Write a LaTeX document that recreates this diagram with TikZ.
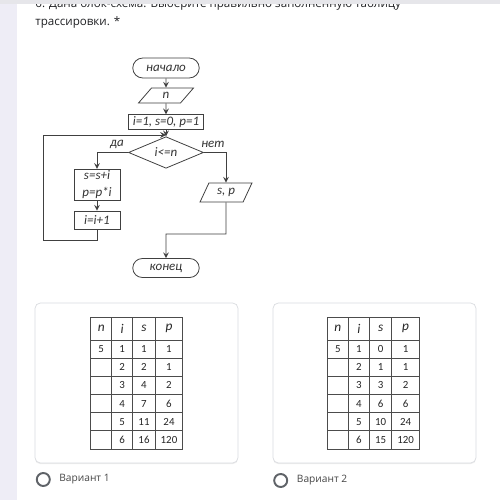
\documentclass[tikz,border=0pt]{standalone}
\usepackage{fontspec}
\setmainfont{Carlito}
\newfontfamily\uifont{Open Sans}
\usetikzlibrary{shapes.geometric,shapes.misc,shadows}

\definecolor{pagebg}{HTML}{EEEDF6}
\definecolor{topbar}{HTML}{E6E6EA}
\definecolor{cardline}{HTML}{DADCE0}
\definecolor{uitext}{HTML}{202124}
\definecolor{radiogray}{HTML}{5F6368}

\tikzstyle{term} = [rounded rectangle, draw, minimum width=1.4cm, minimum height=0.4cm, inner sep=1pt]
\tikzstyle{io} = [trapezium, trapezium left angle=65, trapezium right angle=115, trapezium stretches=true, draw, inner sep=1pt]
\tikzstyle{block} = [rectangle, draw, text centered, inner sep=1pt]
\tikzstyle{decision} = [diamond, draw, minimum width=1.5cm, minimum height=0.5cm, inner sep=0pt]

\begin{document}
\begin{tikzpicture}[x=0.02cm, y=-0.02cm, >=stealth, line width=0.45pt, draw=black!75,
  font=\fontsize{7.4}{9.6}\selectfont\itshape, text=black!80]
	\tikzstyle{card}=[rectangle, fill=white, draw=cardline, line width=0.4pt, rounded corners=3pt, minimum width=4.06cm, minimum height=3.2cm, drop shadow={opacity=0.12, shadow xshift=0pt, shadow yshift=-0.7pt}]
	\tikzstyle{cell}=[rectangle, draw=black!70, line width=0.5pt, minimum height=0.3634cm, inner sep=0pt, font=\fontsize{6.2}{7}\selectfont\upshape, text=black!85]
	\tikzstyle{head}=[cell, minimum height=0.454cm, font=\fontsize{7.6}{8}\selectfont\itshape]
	\tikzstyle{radio}=[circle, draw=radiogray, line width=1.1pt, minimum size=0.26cm, inner sep=0pt]
	\tikzstyle{option}=[anchor=west, inner sep=0pt, font=\uifont\fontsize{5.8}{7}\selectfont\upshape, text=black!72]
	\tikzstyle{branch}=[inner sep=0pt]
  \useasboundingbox (0,0) rectangle (500,500);
  \fill[white] (0,0) rectangle (500,500);
  \fill[pagebg] (0,0) rectangle (17,500);
  \node[anchor=base west, inner sep=0pt, font=\uifont\fontsize{6.6}{8}\selectfont\upshape, text=uitext] (qline1) at (35,7.5) {6. Дана блок-схема. Выберите правильно заполненную таблицу};
  \node[anchor=base west, inner sep=0pt, font=\uifont\fontsize{6.6}{8}\selectfont\upshape, text=uitext] (qline2) at (35,26) {трассировки. *};
  \fill[topbar] (0,0) rectangle (500,4.5);

  \node[term] (start) at (166,68) {начало};
  \node[io, below of=start, node distance=0.55cm, minimum width=1.1cm, minimum height=0.3cm] (inp) {n};
  \node[block, below of=inp, node distance=0.53cm, minimum width=1.5cm, minimum height=0.28cm] (init) {i=1, s=0, p=1};
  \node[decision, below of=init, node distance=0.61cm] (cond) {i<=n};
  \node[block, align=center, minimum width=0.92cm, minimum height=0.62cm] (body) at (97,185) {s=s+i\\p=p*i};
  \node[block, below of=body, node distance=0.7cm, minimum width=0.92cm, minimum height=0.36cm] (inc) {i=i+1};
  \node[io, minimum width=1.04cm, minimum height=0.38cm] (out) at (226,192.5) {s, p};
  \node[term, minimum height=0.38cm] (stop) at (166,268) {конец};
  \node[branch] (yes) at (117,144.5) {да};
  \node[branch] (no) at (213,144.5) {нет};
  \coordinate (join) at (166,135);
  \coordinate (loopbl) at (43,240);
  \coordinate (merge) at (166,234);
\draw[->] (start) -- (inp);
\draw[->] (inp) -- (init);
\draw[->] (init) -- (cond);
\draw[->] (cond.west) -| (body);
\draw[->] (body) -- (inc);
\draw[->] (inc.south) |- (loopbl) |- (join);
\draw[->] (cond.east) -| (out);
\draw[->] (out) |- (merge) -- (stop);

  \node[card] (card1) at (136.5,383) {};
  \node[card] (card2) at (374.5,383) {};
  \foreach \c/\cx/\w in {n/101.2/0.42, i/122.2/0.42, s/144/0.452, p/169/0.548}
    \node[head, minimum width=\w cm] (ta-0-\c) at (\cx,328.65) {\c};
  \foreach \r/\vn/\vi/\vs/\vp in {1/5/1/1/1, 2//2/2/1, 3//3/4/2, 4//4/7/6, 5//5/11/24, 6//6/16/120}{
    \node[cell, minimum width=0.42cm] (ta-\r-n) at (101.2,{340+18.17*(\r-0.5)}) {\vn};
    \node[cell, minimum width=0.42cm] (ta-\r-i) at (122.2,{340+18.17*(\r-0.5)}) {\vi};
    \node[cell, minimum width=0.452cm] (ta-\r-s) at (144,{340+18.17*(\r-0.5)}) {\vs};
    \node[cell, minimum width=0.548cm] (ta-\r-p) at (169,{340+18.17*(\r-0.5)}) {\vp};
  }
  \foreach \c/\cx/\w in {n/337.8/0.42, i/358.8/0.42, s/380.6/0.452, p/405.6/0.548}
    \node[head, minimum width=\w cm] (tb-0-\c) at (\cx,328.65) {\c};
  \foreach \r/\vn/\vi/\vs/\vp in {1/5/1/0/1, 2//2/1/1, 3//3/3/2, 4//4/6/6, 5//5/10/24, 6//6/15/120}{
    \node[cell, minimum width=0.42cm] (tb-\r-n) at (337.8,{340+18.17*(\r-0.5)}) {\vn};
    \node[cell, minimum width=0.42cm] (tb-\r-i) at (358.8,{340+18.17*(\r-0.5)}) {\vi};
    \node[cell, minimum width=0.452cm] (tb-\r-s) at (380.6,{340+18.17*(\r-0.5)}) {\vs};
    \node[cell, minimum width=0.548cm] (tb-\r-p) at (405.6,{340+18.17*(\r-0.5)}) {\vp};
  }

  \node[radio] (radio1) at (43.3,479.5) {};
  \node[option] (opt1) at (59,479.5) {Вариант 1};
  \node[radio] (radio2) at (280.7,480.5) {};
  \node[option] (opt2) at (296.5,480.5) {Вариант 2};
\end{tikzpicture}
\end{document}
